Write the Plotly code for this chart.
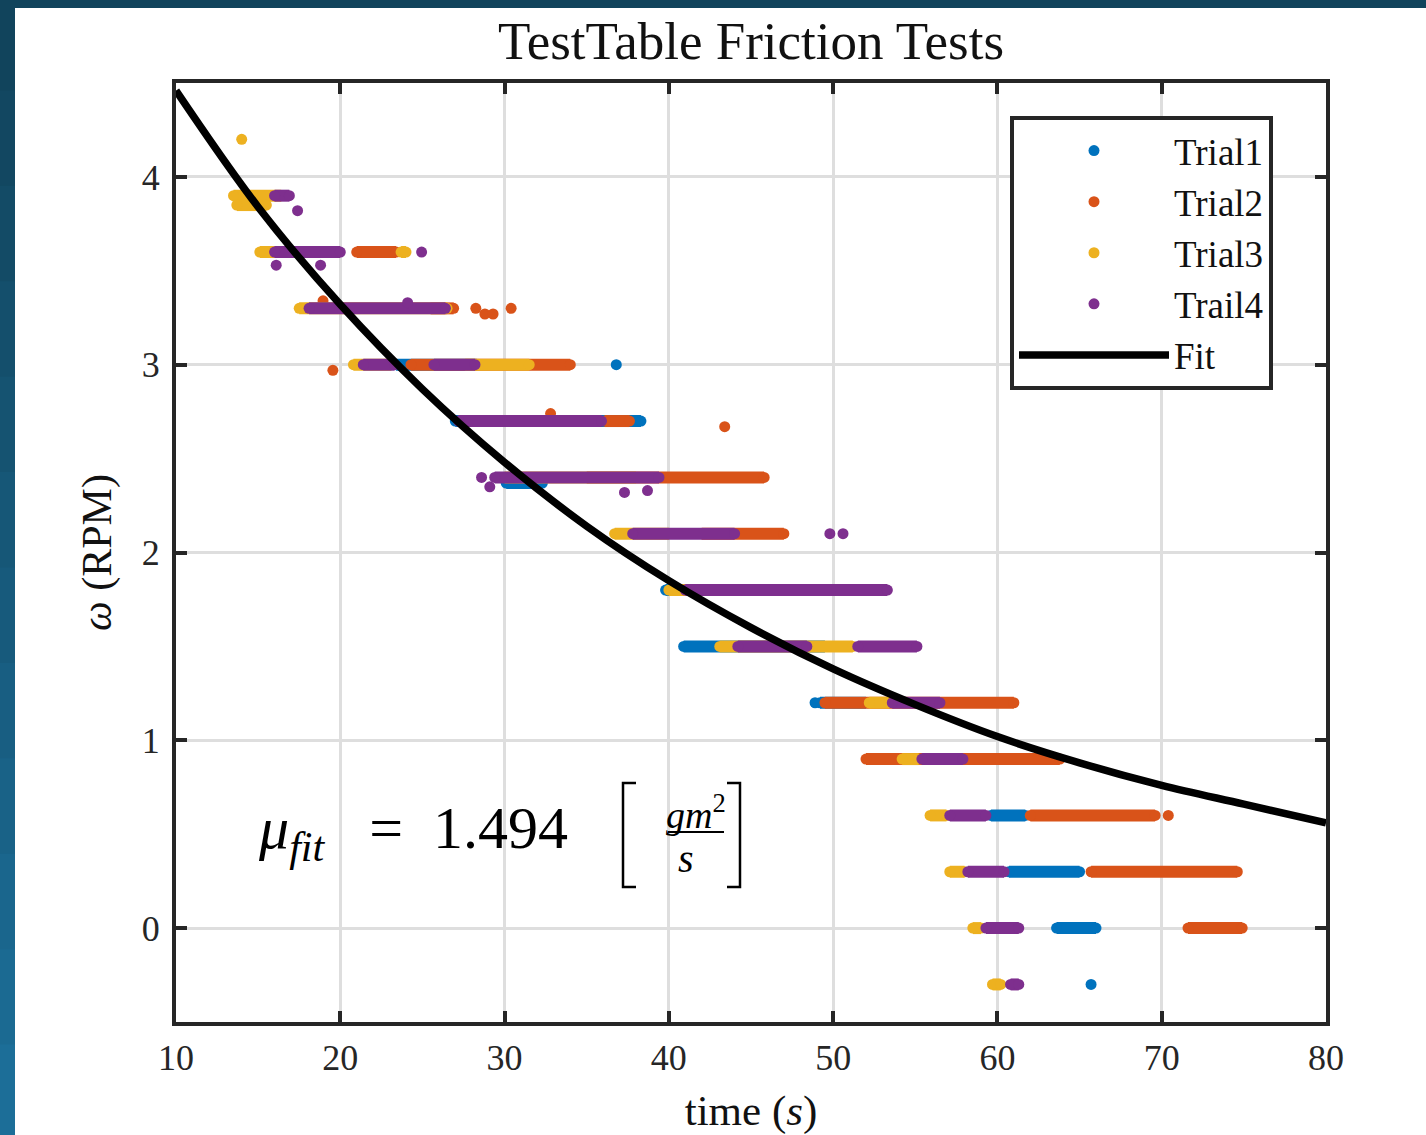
import plotly.graph_objects as go

# ---------------- data ----------------
# Each trial: horizontal runs of samples at a quantised speed level
# (level, first time, last time) plus isolated samples (x, y).
T1_level = [3.0, 2.7, 2.37, 1.8, 1.5, 1.2, 0.6, 0.3, 0.0]
T1_start = [23.4, 27.0, 30.1, 39.8, 40.9, 49.2, 59.6, 60.7, 63.6]
T1_end   = [28.3, 38.3, 32.3, 47.0, 49.5, 52.0, 61.7, 65.0, 66.0]
T1_px    = [36.8, 48.9, 65.7]
T1_py    = [3.0, 1.2, -0.3]

T2_level = [3.6, 3.3, 3.0, 2.7, 2.4, 2.1, 1.8, 1.2, 0.9, 0.6, 0.3, 0.0]
T2_start = [21.0, 25.5, 24.3, 36.1, 35.0, 42.0, 44.0, 49.5, 52.0, 62.0, 65.7, 71.6]
T2_end   = [23.4, 26.9, 34.0, 37.6, 45.8, 47.0, 49.0, 61.0, 63.8, 69.6, 74.6, 74.9]
T2_px    = [18.95, 28.25, 28.8, 29.3, 30.4, 19.55, 32.8, 43.4, 70.4]
T2_py    = [3.34, 3.3, 3.27, 3.27, 3.3, 2.97, 2.74, 2.67, 0.6]

T3_level = [3.9, 3.85, 3.6, 3.6, 3.3, 3.0, 3.0, 2.7, 2.4, 2.1, 1.8, 1.5, 1.2, 0.9, 0.6, 0.3, 0.0, -0.3]
T3_start = [13.5, 13.7, 15.1, 23.7, 17.5, 20.8, 27.6, 27.3, 30.0, 36.7, 40.0, 43.1, 52.2, 54.2, 55.9, 57.1, 58.5, 59.7]
T3_end   = [16.4, 15.5, 19.8, 24.0, 26.5, 23.1, 31.5, 35.4, 38.0, 40.0, 48.0, 51.2, 53.4, 55.2, 56.9, 58.0, 59.0, 60.2]
T3_px    = [14.0]
T3_py    = [4.2]

T4_level = [3.9, 3.6, 3.3, 3.0, 3.0, 2.7, 2.4, 2.1, 1.8, 1.5, 1.5, 1.2, 0.9, 0.6, 0.3, 0.0, -0.3]
T4_start = [16.0, 16.0, 18.1, 21.4, 25.7, 27.2, 29.4, 37.8, 41.0, 44.2, 51.5, 53.6, 55.4, 57.1, 58.2, 59.3, 60.8]
T4_end   = [16.9, 20.0, 26.4, 23.3, 28.2, 35.9, 39.4, 44.0, 53.3, 48.4, 55.1, 56.5, 57.9, 59.3, 60.4, 61.3, 61.3]
T4_px    = [17.4, 24.95, 16.1, 18.8, 24.1, 28.6, 29.1, 37.3, 38.7, 49.8, 50.6]
T4_py    = [3.82, 3.6, 3.53, 3.53, 3.33, 2.4, 2.35, 2.32, 2.33, 2.1, 2.1]

# fitted decay curve
fit_t = [10, 15, 20, 25, 30, 35, 40, 45, 50, 55, 60, 65, 70, 75, 80]
fit_w = [4.46, 3.84, 3.32, 2.87, 2.48, 2.14, 1.85, 1.60, 1.38, 1.19, 1.02, 0.88, 0.76, 0.66, 0.56]

trials = [
    ("Trial1", "#0072BD", T1_level, T1_start, T1_end, T1_px, T1_py),
    ("Trial2", "#D95319", T2_level, T2_start, T2_end, T2_px, T2_py),
    ("Trial3", "#EDB120", T3_level, T3_start, T3_end, T3_px, T3_py),
    ("Trail4", "#7E2F8E", T4_level, T4_start, T4_end, T4_px, T4_py),
]

FONT = "Liberation Serif"
INK = "#262626"
MS = 11

# plot-area pixel geometry
L, R, T, B = 176, 1326, 83, 1022
W, H = 1426, 1135


def pp(px, py):
    return (px - L) / (R - L), (B - py) / (B - T)


fig = go.Figure()

for name, col, lv, st, en, ix, iy in trials:
    lx, ly = [], []
    for l, s, e in zip(lv, st, en):
        lx += [s, e, None]
        ly += [l, l, None]
    fig.add_trace(go.Scatter(x=lx, y=ly, mode="lines", line=dict(color=col, width=MS + 1),
                             showlegend=False, hoverinfo="skip", legendgroup=name))
    mx = list(st) + list(en) + list(ix)
    my = list(lv) + list(lv) + list(iy)
    fig.add_trace(go.Scatter(x=mx, y=my, mode="markers", name=name, legendgroup=name,
                             marker=dict(color=col, size=MS, line=dict(width=0))))

fig.add_trace(go.Scatter(x=fit_t, y=fit_w, mode="lines", name="Fit",
                         line=dict(color="black", width=7.5, shape="spline")))

# ---------------- background frame ----------------
shapes = []
x0, y0 = pp(15, H + 5)
x1, y1 = pp(W + 5, 8)
shapes.append(dict(type="rect", xref="paper", yref="paper", x0=x0, x1=x1, y0=y0, y1=y1,
                   fillcolor="white", line=dict(width=0), layer="below"))
nb = 12
c0 = (0x11, 0x44, 0x5c)
c1 = (0x1c, 0x6e, 0x98)
for i in range(nb):
    f = i / (nb - 1)
    c = tuple(int(a + (b - a) * f) for a, b in zip(c0, c1))
    ya = -5 + i * (H + 10) / nb
    yb = -5 + (i + 1) * (H + 10) / nb + 1
    bx0, by0 = pp(-5, yb)
    bx1, by1 = pp(15, ya)
    shapes.append(dict(type="rect", xref="paper", yref="paper", x0=bx0, x1=bx1, y0=by0, y1=by1,
                       fillcolor="rgb(%d,%d,%d)" % c, line=dict(width=0), layer="below"))
tx0, ty0 = pp(-5, 8)
tx1, ty1 = pp(W + 5, -5)
shapes.append(dict(type="rect", xref="paper", yref="paper", x0=tx0, x1=tx1, y0=ty0, y1=ty1,
                   fillcolor="rgb(17,68,92)", line=dict(width=0), layer="below"))


# brackets and fraction bar of the equation
def path(pts):
    d = ""
    for k, (a, b) in enumerate(pts):
        u, v = pp(a, b)
        d += ("M" if k == 0 else "L") + "%.5f,%.5f" % (u, v)
    return d


shapes.append(dict(type="path", xref="paper", yref="paper",
                   path=path([(636, 783), (623, 783), (623, 887), (636, 887)]),
                   line=dict(color="black", width=2.5)))
shapes.append(dict(type="path", xref="paper", yref="paper",
                   path=path([(727, 783), (740, 783), (740, 887), (727, 887)]),
                   line=dict(color="black", width=2.5)))
fx0, fy = pp(668, 832)
fx1, _ = pp(724, 832)
shapes.append(dict(type="line", xref="paper", yref="paper", x0=fx0, x1=fx1, y0=fy, y1=fy,
                   line=dict(color="black", width=2.2)))

annotations = []
ax, ay = pp(256, 833)
annotations.append(dict(xref="paper", yref="paper", x=ax, y=ay, xanchor="left", yanchor="middle",
                        text="<i>μ</i><sub><i>fit</i></sub>&nbsp;&nbsp; =&nbsp; 1.494",
                        showarrow=False,
                        font=dict(family=FONT, size=60, color="black")))
ax, ay = pp(696, 812)
annotations.append(dict(xref="paper", yref="paper", x=ax, y=ay, xanchor="center", yanchor="middle",
                        text="<i>gm</i><sup>2</sup>", showarrow=False,
                        font=dict(family=FONT, size=38, color="black")))
ax, ay = pp(686, 858)
annotations.append(dict(xref="paper", yref="paper", x=ax, y=ay, xanchor="center", yanchor="middle",
                        text="<i>s</i>", showarrow=False,
                        font=dict(family=FONT, size=40, color="black")))

axis_common = dict(
    showline=True, linewidth=4, linecolor=INK, mirror="ticks",
    ticks="inside", ticklen=11, tickwidth=4, tickcolor=INK,
    showgrid=True, gridcolor="#dedede", gridwidth=3, zeroline=False,
    tickfont=dict(family=FONT, size=36, color=INK),
)

fig.update_layout(
    width=W, height=H,
    margin=dict(l=L, r=W - R, t=T, b=H - B, autoexpand=False),
    paper_bgcolor="rgb(21,88,122)", plot_bgcolor="white",
    title=dict(text="TestTable Friction Tests", x=0.5, xref="paper", xanchor="center",
               y=1 - 40 / H, yanchor="middle",
               font=dict(family=FONT, size=53, color="#111111")),
    xaxis=dict(range=[10, 80], tick0=10, dtick=10, ticklabelstandoff=1,
               title=dict(text="time (<i>s</i>)", standoff=28,
                          font=dict(family=FONT, size=43, color="#111111")),
               **axis_common),
    yaxis=dict(range=[-0.5, 4.5], tick0=0, dtick=1, ticklabelstandoff=5,
               title=dict(text="<i>ω</i> (RPM)", standoff=18,
                          font=dict(family=FONT, size=42, color="#111111")),
               **axis_common),
    legend=dict(x=pp(1010, 0)[0], y=pp(0, 116)[1], xanchor="left", yanchor="top",
                bgcolor="white", bordercolor=INK, borderwidth=4, itemwidth=150,
                font=dict(family=FONT, size=37, color="#111111"), tracegroupgap=0),
    shapes=shapes, annotations=annotations,
    showlegend=True,
)

fig.write_html("out.html")
